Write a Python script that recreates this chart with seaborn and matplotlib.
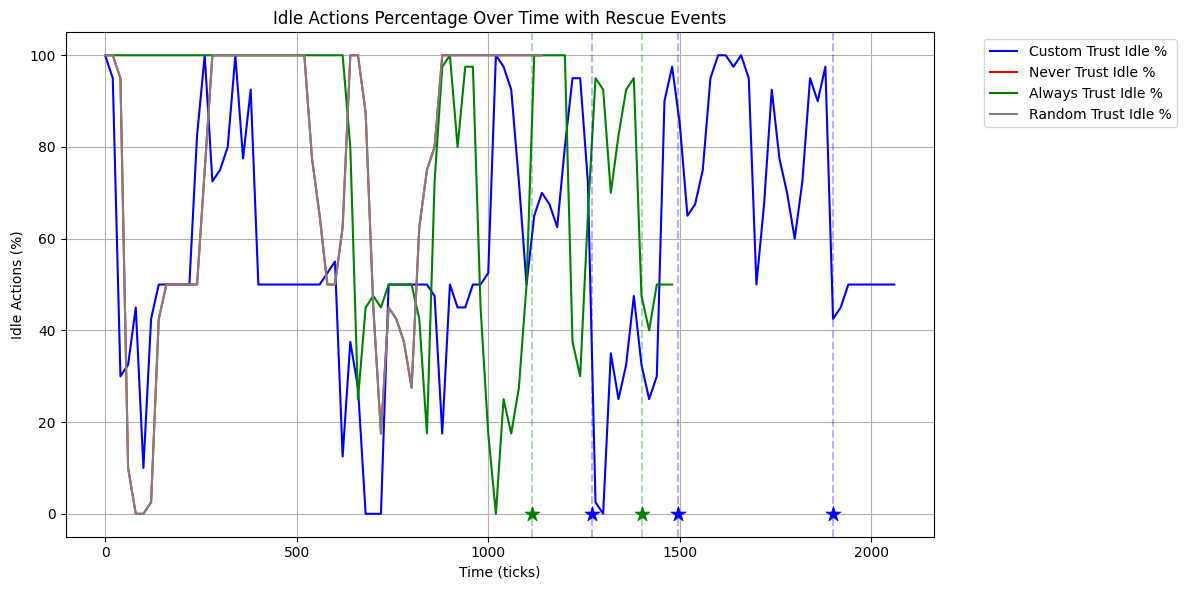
# idle actions per trust model, with rescue events

import pandas as pd
import seaborn as sns
import matplotlib.pyplot as plt

# sampled every 20 ticks
ticks = list(range(0, 2080, 20))

custom_idle = [100, 95, 30, 32.5, 45, 10, 42.5, 50, 50, 50, 50, 50, 82.5, 100, 72.5, 75, 80, 100, 77.5, 92.5,
               50, 50, 50, 50, 50, 50, 50, 50, 50, 52.5, 55, 12.5, 37.5, 27.5, 0, 0, 0, 50, 50, 50,
               50, 50, 50, 47.5, 17.5, 50, 45, 45, 50, 50, 52.5, 100, 97.5, 92.5, 72.5, 50, 65, 70, 67.5, 62.5,
               80, 95, 95, 72.5, 2.5, 0, 35, 25, 32.5, 47.5, 32.5, 25, 30, 90, 97.5, 85, 65, 67.5, 75, 95,
               100, 100, 97.5, 100, 95, 50, 67.5, 92.5, 77.5, 70, 60, 72.5, 95, 90, 97.5, 42.5, 45, 50, 50, 50,
               50, 50, 50, 50]
never_idle = [100, 100, 95, 10, 0, 0, 2.5, 42.5, 50, 50, 50, 50, 50, 75, 100, 100, 100, 100, 100, 100,
              100, 100, 100, 100, 100, 100, 100, 77.5, 65, 50, 50, 62.5, 100, 100, 87.5, 45, 17.5, 45, 42.5, 37.5,
              27.5, 62.5, 75, 80, 100, 100, 100, 100, 100, 100, 100, 100, 100, 100, 100, 100, 100, 100]
always_idle = [100, 100, 100, 100, 100, 100, 100, 100, 100, 100, 100, 100, 100, 100, 100, 100, 100, 100, 100, 100,
               100, 100, 100, 100, 100, 100, 100, 100, 100, 100, 100, 100, 80, 25, 45, 47.5, 45, 50, 50, 50,
               50, 42.5, 17.5, 72.5, 97.5, 100, 80, 97.5, 97.5, 45, 17.5, 0, 25, 17.5, 27.5, 50, 100, 100, 100, 100,
               100, 37.5, 30, 65, 95, 92.5, 70, 82.5, 92.5, 95, 47.5, 40, 50, 50, 50]
random_idle = list(never_idle)

series_names = ['Custom Trust Idle %', 'Never Trust Idle %', 'Always Trust Idle %', 'Random Trust Idle %']
series_values = [custom_idle, never_idle, always_idle, random_idle]
series_colors = ['blue', 'red', 'green', 'gray']

rescue_ticks = [1113, 1270, 1402, 1495, 1900]
rescue_colors = ['green', 'blue', 'green', 'blue', 'blue']

plt.figure(figsize=(12, 6))
ax = plt.gca()

for name, values, color in zip(series_names, series_values, series_colors):
    df = pd.DataFrame({'tick': ticks[:len(values)], 'idle': values})
    sns.lineplot(data=df, x='tick', y='idle', color=color, label=name, errorbar=None, ax=ax)

# dashed line and star for each rescue
for tick, color in zip(rescue_ticks, rescue_colors):
    ax.axvline(x=tick, color=color, linestyle='--', alpha=0.3)
    sns.scatterplot(x=[tick], y=[0], color=color, marker='*', s=130, edgecolor=color, linewidth=0.5, ax=ax, zorder=3)

ax.set_title('Idle Actions Percentage Over Time with Rescue Events')
ax.set_xlabel('Time (ticks)')
ax.set_ylabel('Idle Actions (%)')
ax.grid(True)
ax.legend(bbox_to_anchor=(1.05, 1), loc='upper left')

plt.tight_layout()
plt.savefig('out.png', dpi=100, bbox_inches='tight')
